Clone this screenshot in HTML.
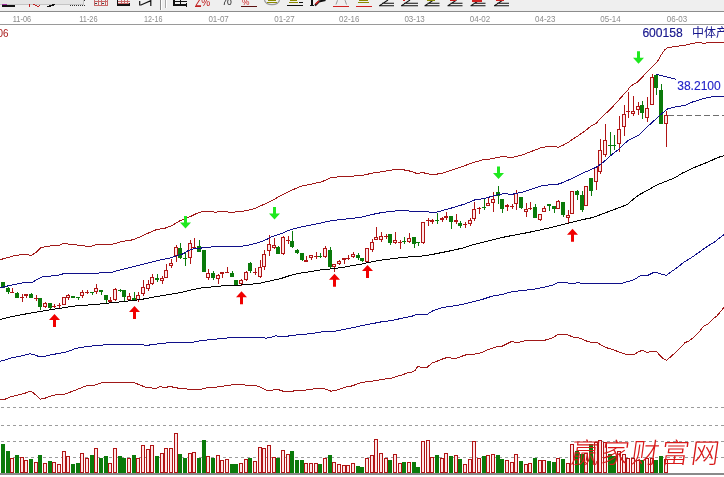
<!DOCTYPE html>
<html lang="zh"><head><meta charset="utf-8"><title>600158 中体产业 K线图</title>
<style>html,body{margin:0;padding:0;background:#fff}body{width:724px;height:477px;overflow:hidden}svg{display:block;filter:blur(0.4px)}text{font-family:"Liberation Sans","Noto Sans CJK SC",sans-serif}</style></head><body>
<svg width="724" height="477" viewBox="0 0 724 477">
<rect width="724" height="477" fill="#fff"/>
<g shape-rendering="crispEdges">
<rect x="0" y="0" width="724" height="11" fill="#efefef"/>
<rect x="0" y="0" width="83" height="4" fill="#e4e4e4"/><rect x="0" y="4" width="84" height="1" fill="#c4c4c4"/><rect x="83" y="0" width="1" height="4" fill="#c4c4c4"/>
<rect x="0" y="11" width="724" height="1" fill="#8c8c8c"/>
<rect x="0" y="24" width="724" height="1" fill="#9a9a9a"/>
</g>
<g shape-rendering="crispEdges">
<!-- icon1 -->
<rect x="2" y="5" width="13" height="2" fill="#111"/><rect x="2" y="4" width="5" height="1" fill="#a030a0"/>
<!-- icon2 red marks -->
<rect x="29" y="4" width="1" height="3" fill="#c02020"/><rect x="33" y="4" width="2" height="1" fill="#c02020"/><rect x="35" y="5" width="2" height="1" fill="#c02020"/><rect x="37" y="6" width="2" height="1" fill="#c02020"/><rect x="39" y="5" width="1" height="1" fill="#c02020"/>
<!-- icon3 -->
<rect x="47" y="6" width="4" height="1" fill="#111"/><rect x="49" y="5" width="5" height="1" fill="#111"/><rect x="52" y="4" width="3" height="1" fill="#111"/>
<!-- icon4 dotted -->
<g fill="#333"><rect x="70" y="5" width="1" height="1"/><rect x="72" y="5" width="1" height="1"/><rect x="74" y="5" width="1" height="1"/><rect x="76" y="5" width="1" height="1"/><rect x="78" y="5" width="1" height="1"/><rect x="80" y="5" width="1" height="1"/><rect x="82" y="5" width="1" height="1"/><rect x="84" y="5" width="1" height="1"/><rect x="84" y="0" width="1" height="1"/></g>
<!-- icon5 grid -->
<g fill="#c86868"><rect x="94" y="0" width="1" height="5"/><rect x="98" y="0" width="1" height="5"/><rect x="101" y="0" width="1" height="5"/><rect x="105" y="0" width="1" height="5"/><rect x="107" y="0" width="1" height="5"/><rect x="94" y="1" width="14" height="1"/><rect x="94" y="5" width="14" height="1"/></g>
<rect x="95" y="3" width="2" height="1" fill="#444"/><rect x="102" y="3" width="2" height="1" fill="#444"/>
<!-- icon6 grid + base -->
<g fill="#c86868"><rect x="121" y="0" width="1" height="4"/><rect x="124" y="0" width="1" height="4"/><rect x="127" y="0" width="1" height="4"/><rect x="118" y="1" width="12" height="1"/><rect x="118" y="3" width="12" height="1"/></g>
<rect x="117" y="0" width="1" height="6" fill="#111"/><rect x="117" y="4" width="13" height="2" fill="#111"/><rect x="129" y="3" width="1" height="3" fill="#111"/>
<!-- separator -->
<rect x="160" y="0" width="1" height="10" fill="#8a8a8a"/><rect x="161" y="0" width="1" height="10" fill="#fff"/>
<rect x="165" y="0" width="1" height="8" fill="#a8a8a8"/><rect x="166" y="0" width="1" height="8" fill="#fff"/>
<!-- icon8 E/table -->
<rect x="173" y="4" width="14" height="2" fill="#111"/><rect x="173" y="0" width="2" height="5" fill="#111"/><rect x="175" y="1" width="5" height="1" fill="#111"/><rect x="181" y="1" width="6" height="1" fill="#111"/><rect x="180" y="0" width="1" height="4" fill="#111"/><rect x="186" y="3" width="1" height="4" fill="#111"/>
<!-- % underline -->
<rect x="241" y="6" width="16" height="1" fill="#5a1010"/>
<!-- icon12 circle bottom & olive -->
<rect x="268" y="0" width="8" height="1" fill="#8a8a00"/><rect x="267" y="2" width="10" height="1" fill="#8a8a00"/>
<!-- icon13 olive + black underline -->
<rect x="290" y="0" width="7" height="1" fill="#8a8a00"/><rect x="289" y="2" width="9" height="1" fill="#8a8a00"/><rect x="287" y="5" width="16" height="1" fill="#111"/><rect x="299" y="2" width="4" height="1" fill="#111"/>
<!-- icon14 I + pen -->
<rect x="311" y="0" width="2" height="6" fill="#111"/><rect x="310" y="5" width="4" height="1" fill="#111"/>
<!-- icon15 red underline -->
<rect x="333" y="6" width="16" height="1" fill="#d02020"/>
<!-- icon16 olive + red underline -->
<rect x="359" y="0" width="9" height="1" fill="#8a8a00"/><rect x="358" y="2" width="11" height="1" fill="#8a8a00"/><rect x="356" y="6" width="16" height="1" fill="#d02020"/>
</g>
<!-- non-crisp strokes -->
<g fill="none" stroke="#111" stroke-width="1.2">
<polyline points="139.7,1 139.7,5 141,5 150.8,0.6 150.8,6"/>
<path d="M264.5,0 Q265.5,4.6 272,4.6 Q278.5,4.6 279.5,0" stroke="#999"/>
<path d="M336,4.5 Q337.5,0 339,-3 M344,-3 Q345,0 346.5,4.5" stroke="#999" stroke-width="1"/>
<polyline points="315,5.5 319,1.5 325.5,0" stroke="#111" stroke-width="2"/>
<polyline points="315.5,4.2 319,1" stroke="#d02020" stroke-width="1.6"/>
</g>
<g stroke="#111" stroke-width="1.1" fill="none">
<path d="M382,3.3 H394 M379,5.8 H394 M379.5,5.6 L388,0"/>
<path d="M404,3.3 H418 M401,5.8 H418 M401.5,5.6 L410,0"/>
<path d="M427.5,3.3 H439.5 M424.5,5.8 H439.5 M425,5.6 L433.5,0"/>
<path d="M450.5,3.3 H462.5 M447.5,5.8 H462.5 M448,5.6 L456.5,0"/>
<path d="M473.5,3.3 H485.5 M470.5,5.8 H485.5 M471,5.6 L479.5,0"/>
<path d="M497,3.3 H509 M494,5.8 H509 M494.5,5.6 L503,0"/>
</g>
<g shape-rendering="crispEdges"><rect x="403" y="0" width="2" height="1" fill="#d02020"/><rect x="427" y="0" width="8" height="1" fill="#8a8a00"/><rect x="450" y="0" width="6" height="1" fill="#d02020"/><rect x="472" y="0" width="10" height="2" fill="#d02020"/><rect x="496" y="0" width="8" height="1" fill="#d02020"/></g>
<text x="195.2" y="6.4" font-size="10" fill="#c02020">Z%</text>
<rect x="195" y="6" width="6" height="1" fill="#c02020"/>
<text x="222.3" y="4.8" font-size="8.6" fill="#111">70</text>
<text x="242" y="4.6" font-size="8.4" fill="#d02020">%</text>

<g font-size="9.2" fill="#8c8c8c" text-anchor="middle">
<text x="22.0" y="22" textLength="18.4" lengthAdjust="spacingAndGlyphs">11-06</text>
<text x="88.4" y="22" textLength="18.4" lengthAdjust="spacingAndGlyphs">11-26</text>
<text x="153.2" y="22" textLength="18.4" lengthAdjust="spacingAndGlyphs">12-16</text>
<text x="218.6" y="22" textLength="20.4" lengthAdjust="spacingAndGlyphs">01-07</text>
<text x="284.5" y="22" textLength="20.4" lengthAdjust="spacingAndGlyphs">01-27</text>
<text x="349.3" y="22" textLength="20.4" lengthAdjust="spacingAndGlyphs">02-16</text>
<text x="414.6" y="22" textLength="20.4" lengthAdjust="spacingAndGlyphs">03-13</text>
<text x="480.0" y="22" textLength="20.4" lengthAdjust="spacingAndGlyphs">04-02</text>
<text x="545.3" y="22" textLength="20.4" lengthAdjust="spacingAndGlyphs">04-23</text>
<text x="610.5" y="22" textLength="20.4" lengthAdjust="spacingAndGlyphs">05-14</text>
<text x="677.0" y="22" textLength="20.4" lengthAdjust="spacingAndGlyphs">06-03</text>
</g>
<text x="-2.6" y="37.3" font-size="11.5" fill="#a81818" textLength="11" lengthAdjust="spacingAndGlyphs">06</text>
<g stroke="#9c9c9c" stroke-width="1" stroke-dasharray="3 3" shape-rendering="crispEdges">
<line x1="1" y1="407.5" x2="724" y2="407.5"/>
<line x1="1" y1="425.5" x2="724" y2="425.5"/>
<line x1="1" y1="441.5" x2="724" y2="441.5"/>
<line x1="1" y1="457.5" x2="724" y2="457.5"/>
</g>
<g shape-rendering="crispEdges">
<rect x="3" y="282" width="1" height="6" fill="#0a7a0a"/>
<rect x="1" y="282" width="4" height="6" fill="#0a7a0a"/>
<rect x="8" y="287" width="1" height="7" fill="#0a7a0a"/>
<rect x="6" y="288" width="4" height="4" fill="#0a7a0a"/>
<rect x="12" y="288" width="1" height="5" fill="#b01414"/>
<rect x="10" y="292" width="4" height="1" fill="#b01414"/>
<rect x="17" y="292" width="1" height="6" fill="#0a7a0a"/>
<rect x="15" y="293" width="4" height="5" fill="#0a7a0a"/>
<rect x="22" y="294" width="1" height="8" fill="#b01414"/>
<rect x="20" y="297" width="4" height="1" fill="#b01414"/>
<rect x="26" y="294" width="1" height="4" fill="#b01414"/>
<rect x="24" y="294" width="4" height="2" fill="#b01414"/>
<rect x="31" y="293" width="1" height="5" fill="#0a7a0a"/>
<rect x="29" y="294" width="4" height="4" fill="#0a7a0a"/>
<rect x="36" y="295" width="1" height="6" fill="#b01414"/>
<rect x="34" y="298" width="4" height="1" fill="#b01414"/>
<rect x="40" y="298" width="1" height="12" fill="#0a7a0a"/>
<rect x="38" y="298" width="4" height="9" fill="#0a7a0a"/>
<rect x="45" y="302" width="1" height="1" fill="#b01414"/>
<rect x="45" y="307" width="1" height="1" fill="#b01414"/>
<rect x="43" y="303" width="4" height="4" fill="#b01414"/>
<rect x="44" y="304" width="2" height="2" fill="#ffe6e8"/>
<rect x="50" y="303" width="1" height="6" fill="#0a7a0a"/>
<rect x="48" y="303" width="4" height="5" fill="#0a7a0a"/>
<rect x="54" y="304" width="1" height="4" fill="#b01414"/>
<rect x="52" y="306" width="4" height="1" fill="#b01414"/>
<rect x="59" y="303" width="1" height="5" fill="#b01414"/>
<rect x="57" y="305" width="4" height="1" fill="#b01414"/>
<rect x="62" y="297" width="4" height="8" fill="#b01414"/>
<rect x="63" y="298" width="2" height="6" fill="#ffe6e8"/>
<rect x="68" y="294" width="1" height="1" fill="#b01414"/>
<rect x="68" y="298" width="1" height="2" fill="#b01414"/>
<rect x="66" y="295" width="4" height="3" fill="#b01414"/>
<rect x="67" y="296" width="2" height="1" fill="#ffe6e8"/>
<rect x="73" y="296" width="1" height="2" fill="#0a7a0a"/>
<rect x="71" y="296" width="4" height="2" fill="#0a7a0a"/>
<rect x="78" y="297" width="1" height="3" fill="#0a7a0a"/>
<rect x="76" y="297" width="4" height="1" fill="#0a7a0a"/>
<rect x="82" y="290" width="1" height="2" fill="#b01414"/>
<rect x="82" y="296" width="1" height="2" fill="#b01414"/>
<rect x="80" y="292" width="4" height="4" fill="#b01414"/>
<rect x="81" y="293" width="2" height="2" fill="#ffe6e8"/>
<rect x="87" y="290" width="1" height="4" fill="#b01414"/>
<rect x="85" y="292" width="4" height="1" fill="#b01414"/>
<rect x="92" y="292" width="1" height="3" fill="#0a7a0a"/>
<rect x="90" y="292" width="4" height="1" fill="#0a7a0a"/>
<rect x="96" y="284" width="1" height="4" fill="#b01414"/>
<rect x="96" y="292" width="1" height="2" fill="#b01414"/>
<rect x="94" y="288" width="4" height="4" fill="#b01414"/>
<rect x="95" y="289" width="2" height="2" fill="#ffe6e8"/>
<rect x="101" y="290" width="1" height="5" fill="#0a7a0a"/>
<rect x="99" y="290" width="4" height="2" fill="#0a7a0a"/>
<rect x="106" y="295" width="1" height="8" fill="#0a7a0a"/>
<rect x="104" y="295" width="4" height="5" fill="#0a7a0a"/>
<rect x="110" y="297" width="1" height="5" fill="#b01414"/>
<rect x="108" y="300" width="4" height="2" fill="#b01414"/>
<rect x="115" y="288" width="1" height="1" fill="#b01414"/>
<rect x="115" y="300" width="1" height="1" fill="#b01414"/>
<rect x="113" y="289" width="4" height="11" fill="#b01414"/>
<rect x="114" y="290" width="2" height="9" fill="#ffe6e8"/>
<rect x="120" y="289" width="1" height="3" fill="#0a7a0a"/>
<rect x="118" y="290" width="4" height="1" fill="#0a7a0a"/>
<rect x="124" y="290" width="1" height="11" fill="#0a7a0a"/>
<rect x="122" y="290" width="4" height="7" fill="#0a7a0a"/>
<rect x="129" y="293" width="1" height="3" fill="#b01414"/>
<rect x="129" y="300" width="1" height="1" fill="#b01414"/>
<rect x="127" y="296" width="4" height="4" fill="#b01414"/>
<rect x="128" y="297" width="2" height="2" fill="#ffe6e8"/>
<rect x="134" y="292" width="1" height="8" fill="#0a7a0a"/>
<rect x="132" y="298" width="4" height="2" fill="#0a7a0a"/>
<rect x="138" y="292" width="1" height="3" fill="#b01414"/>
<rect x="138" y="300" width="1" height="2" fill="#b01414"/>
<rect x="136" y="295" width="4" height="5" fill="#b01414"/>
<rect x="137" y="296" width="2" height="3" fill="#ffe6e8"/>
<rect x="143" y="280" width="1" height="7" fill="#b01414"/>
<rect x="143" y="294" width="1" height="2" fill="#b01414"/>
<rect x="141" y="287" width="4" height="7" fill="#b01414"/>
<rect x="142" y="288" width="2" height="5" fill="#ffe6e8"/>
<rect x="148" y="280" width="1" height="4" fill="#b01414"/>
<rect x="148" y="289" width="1" height="2" fill="#b01414"/>
<rect x="146" y="284" width="4" height="5" fill="#b01414"/>
<rect x="147" y="285" width="2" height="3" fill="#ffe6e8"/>
<rect x="152" y="274" width="1" height="3" fill="#b01414"/>
<rect x="152" y="284" width="1" height="1" fill="#b01414"/>
<rect x="150" y="277" width="4" height="7" fill="#b01414"/>
<rect x="151" y="278" width="2" height="5" fill="#ffe6e8"/>
<rect x="157" y="274" width="1" height="8" fill="#0a7a0a"/>
<rect x="155" y="278" width="4" height="2" fill="#0a7a0a"/>
<rect x="162" y="276" width="1" height="2" fill="#b01414"/>
<rect x="162" y="281" width="1" height="3" fill="#b01414"/>
<rect x="160" y="278" width="4" height="3" fill="#b01414"/>
<rect x="161" y="279" width="2" height="1" fill="#ffe6e8"/>
<rect x="166" y="264" width="1" height="6" fill="#b01414"/>
<rect x="164" y="270" width="4" height="8" fill="#b01414"/>
<rect x="165" y="271" width="2" height="6" fill="#ffe6e8"/>
<rect x="171" y="259" width="1" height="4" fill="#b01414"/>
<rect x="171" y="266" width="1" height="2" fill="#b01414"/>
<rect x="169" y="263" width="4" height="3" fill="#b01414"/>
<rect x="170" y="264" width="2" height="1" fill="#ffe6e8"/>
<rect x="176" y="245" width="1" height="2" fill="#b01414"/>
<rect x="176" y="256" width="1" height="6" fill="#b01414"/>
<rect x="174" y="247" width="4" height="9" fill="#b01414"/>
<rect x="175" y="248" width="2" height="7" fill="#ffe6e8"/>
<rect x="180" y="243" width="1" height="16" fill="#0a7a0a"/>
<rect x="178" y="248" width="4" height="10" fill="#0a7a0a"/>
<rect x="185" y="252" width="1" height="14" fill="#0a7a0a"/>
<rect x="183" y="258" width="4" height="1" fill="#0a7a0a"/>
<rect x="190" y="240" width="1" height="3" fill="#b01414"/>
<rect x="190" y="258" width="1" height="6" fill="#b01414"/>
<rect x="188" y="243" width="4" height="15" fill="#b01414"/>
<rect x="189" y="244" width="2" height="13" fill="#ffe6e8"/>
<rect x="194" y="238" width="1" height="11" fill="#b01414"/>
<rect x="192" y="247" width="4" height="1" fill="#b01414"/>
<rect x="199" y="240" width="1" height="12" fill="#0a7a0a"/>
<rect x="197" y="246" width="4" height="6" fill="#0a7a0a"/>
<rect x="204" y="250" width="1" height="22" fill="#0a7a0a"/>
<rect x="202" y="250" width="4" height="22" fill="#0a7a0a"/>
<rect x="208" y="269" width="1" height="4" fill="#b01414"/>
<rect x="208" y="278" width="1" height="2" fill="#b01414"/>
<rect x="206" y="273" width="4" height="5" fill="#b01414"/>
<rect x="207" y="274" width="2" height="3" fill="#ffe6e8"/>
<rect x="213" y="271" width="1" height="9" fill="#0a7a0a"/>
<rect x="211" y="273" width="4" height="5" fill="#0a7a0a"/>
<rect x="218" y="274" width="1" height="1" fill="#b01414"/>
<rect x="218" y="279" width="1" height="5" fill="#b01414"/>
<rect x="216" y="275" width="4" height="4" fill="#b01414"/>
<rect x="217" y="276" width="2" height="2" fill="#ffe6e8"/>
<rect x="222" y="272" width="1" height="6" fill="#b01414"/>
<rect x="220" y="272" width="4" height="2" fill="#b01414"/>
<rect x="227" y="267" width="1" height="6" fill="#b01414"/>
<rect x="225" y="272" width="4" height="1" fill="#b01414"/>
<rect x="232" y="271" width="1" height="6" fill="#0a7a0a"/>
<rect x="230" y="273" width="4" height="4" fill="#0a7a0a"/>
<rect x="236" y="280" width="1" height="5" fill="#0a7a0a"/>
<rect x="234" y="280" width="4" height="5" fill="#0a7a0a"/>
<rect x="241" y="279" width="1" height="1" fill="#b01414"/>
<rect x="241" y="284" width="1" height="2" fill="#b01414"/>
<rect x="239" y="280" width="4" height="4" fill="#b01414"/>
<rect x="240" y="281" width="2" height="2" fill="#ffe6e8"/>
<rect x="246" y="271" width="1" height="1" fill="#b01414"/>
<rect x="246" y="280" width="1" height="1" fill="#b01414"/>
<rect x="244" y="272" width="4" height="8" fill="#b01414"/>
<rect x="245" y="273" width="2" height="6" fill="#ffe6e8"/>
<rect x="250" y="262" width="1" height="11" fill="#0a7a0a"/>
<rect x="248" y="263" width="4" height="8" fill="#0a7a0a"/>
<rect x="255" y="268" width="1" height="7" fill="#b01414"/>
<rect x="253" y="272" width="4" height="1" fill="#b01414"/>
<rect x="260" y="260" width="1" height="7" fill="#b01414"/>
<rect x="260" y="277" width="1" height="1" fill="#b01414"/>
<rect x="258" y="267" width="4" height="10" fill="#b01414"/>
<rect x="259" y="268" width="2" height="8" fill="#ffe6e8"/>
<rect x="264" y="250" width="1" height="4" fill="#b01414"/>
<rect x="264" y="267" width="1" height="3" fill="#b01414"/>
<rect x="262" y="254" width="4" height="13" fill="#b01414"/>
<rect x="263" y="255" width="2" height="11" fill="#ffe6e8"/>
<rect x="269" y="235" width="1" height="9" fill="#b01414"/>
<rect x="269" y="251" width="1" height="5" fill="#b01414"/>
<rect x="267" y="244" width="4" height="7" fill="#b01414"/>
<rect x="268" y="245" width="2" height="5" fill="#ffe6e8"/>
<rect x="274" y="238" width="1" height="7" fill="#b01414"/>
<rect x="274" y="248" width="1" height="1" fill="#b01414"/>
<rect x="272" y="245" width="4" height="3" fill="#b01414"/>
<rect x="273" y="246" width="2" height="1" fill="#ffe6e8"/>
<rect x="278" y="246" width="1" height="8" fill="#0a7a0a"/>
<rect x="276" y="247" width="4" height="7" fill="#0a7a0a"/>
<rect x="283" y="236" width="1" height="1" fill="#b01414"/>
<rect x="283" y="254" width="1" height="1" fill="#b01414"/>
<rect x="281" y="237" width="4" height="17" fill="#b01414"/>
<rect x="282" y="238" width="2" height="15" fill="#ffe6e8"/>
<rect x="288" y="236" width="1" height="8" fill="#b01414"/>
<rect x="286" y="240" width="4" height="1" fill="#b01414"/>
<rect x="292" y="231" width="1" height="17" fill="#0a7a0a"/>
<rect x="290" y="241" width="4" height="6" fill="#0a7a0a"/>
<rect x="297" y="249" width="1" height="5" fill="#0a7a0a"/>
<rect x="295" y="250" width="4" height="3" fill="#0a7a0a"/>
<rect x="302" y="253" width="1" height="8" fill="#0a7a0a"/>
<rect x="300" y="253" width="4" height="7" fill="#0a7a0a"/>
<rect x="306" y="256" width="1" height="6" fill="#b01414"/>
<rect x="304" y="260" width="4" height="2" fill="#b01414"/>
<rect x="311" y="258" width="1" height="2" fill="#b01414"/>
<rect x="309" y="255" width="4" height="3" fill="#b01414"/>
<rect x="310" y="256" width="2" height="1" fill="#ffe6e8"/>
<rect x="316" y="252" width="1" height="7" fill="#b01414"/>
<rect x="314" y="256" width="4" height="1" fill="#b01414"/>
<rect x="320" y="253" width="1" height="5" fill="#0a7a0a"/>
<rect x="318" y="256" width="4" height="1" fill="#0a7a0a"/>
<rect x="325" y="246" width="1" height="2" fill="#b01414"/>
<rect x="325" y="257" width="1" height="1" fill="#b01414"/>
<rect x="323" y="248" width="4" height="9" fill="#b01414"/>
<rect x="324" y="249" width="2" height="7" fill="#ffe6e8"/>
<rect x="330" y="247" width="1" height="21" fill="#0a7a0a"/>
<rect x="328" y="250" width="4" height="17" fill="#0a7a0a"/>
<rect x="334" y="267" width="1" height="5" fill="#b01414"/>
<rect x="332" y="264" width="4" height="3" fill="#b01414"/>
<rect x="333" y="265" width="2" height="1" fill="#ffe6e8"/>
<rect x="339" y="260" width="1" height="1" fill="#b01414"/>
<rect x="339" y="264" width="1" height="1" fill="#b01414"/>
<rect x="337" y="261" width="4" height="3" fill="#b01414"/>
<rect x="338" y="262" width="2" height="1" fill="#ffe6e8"/>
<rect x="344" y="258" width="1" height="6" fill="#b01414"/>
<rect x="342" y="258" width="4" height="2" fill="#b01414"/>
<rect x="348" y="255" width="1" height="5" fill="#b01414"/>
<rect x="346" y="258" width="4" height="1" fill="#b01414"/>
<rect x="353" y="252" width="1" height="2" fill="#b01414"/>
<rect x="353" y="257" width="1" height="1" fill="#b01414"/>
<rect x="351" y="254" width="4" height="3" fill="#b01414"/>
<rect x="352" y="255" width="2" height="1" fill="#ffe6e8"/>
<rect x="358" y="253" width="1" height="7" fill="#0a7a0a"/>
<rect x="356" y="255" width="4" height="3" fill="#0a7a0a"/>
<rect x="362" y="258" width="1" height="4" fill="#0a7a0a"/>
<rect x="360" y="258" width="4" height="3" fill="#0a7a0a"/>
<rect x="365" y="248" width="4" height="14" fill="#b01414"/>
<rect x="366" y="249" width="2" height="12" fill="#ffe6e8"/>
<rect x="372" y="239" width="1" height="3" fill="#b01414"/>
<rect x="372" y="250" width="1" height="2" fill="#b01414"/>
<rect x="370" y="242" width="4" height="8" fill="#b01414"/>
<rect x="371" y="243" width="2" height="6" fill="#ffe6e8"/>
<rect x="376" y="227" width="1" height="10" fill="#b01414"/>
<rect x="374" y="237" width="4" height="3" fill="#b01414"/>
<rect x="375" y="238" width="2" height="1" fill="#ffe6e8"/>
<rect x="381" y="232" width="1" height="4" fill="#b01414"/>
<rect x="381" y="240" width="1" height="2" fill="#b01414"/>
<rect x="379" y="236" width="4" height="4" fill="#b01414"/>
<rect x="380" y="237" width="2" height="2" fill="#ffe6e8"/>
<rect x="386" y="234" width="1" height="5" fill="#b01414"/>
<rect x="384" y="236" width="4" height="1" fill="#b01414"/>
<rect x="390" y="234" width="1" height="11" fill="#0a7a0a"/>
<rect x="388" y="234" width="4" height="9" fill="#0a7a0a"/>
<rect x="395" y="232" width="1" height="8" fill="#b01414"/>
<rect x="395" y="243" width="1" height="1" fill="#b01414"/>
<rect x="393" y="240" width="4" height="3" fill="#b01414"/>
<rect x="394" y="241" width="2" height="1" fill="#ffe6e8"/>
<rect x="400" y="240" width="1" height="9" fill="#b01414"/>
<rect x="398" y="242" width="4" height="1" fill="#b01414"/>
<rect x="404" y="237" width="1" height="7" fill="#0a7a0a"/>
<rect x="402" y="241" width="4" height="1" fill="#0a7a0a"/>
<rect x="409" y="233" width="1" height="5" fill="#b01414"/>
<rect x="409" y="242" width="1" height="1" fill="#b01414"/>
<rect x="407" y="238" width="4" height="4" fill="#b01414"/>
<rect x="408" y="239" width="2" height="2" fill="#ffe6e8"/>
<rect x="414" y="237" width="1" height="11" fill="#0a7a0a"/>
<rect x="412" y="237" width="4" height="7" fill="#0a7a0a"/>
<rect x="418" y="242" width="1" height="4" fill="#0a7a0a"/>
<rect x="416" y="242" width="4" height="1" fill="#0a7a0a"/>
<rect x="423" y="243" width="1" height="1" fill="#b01414"/>
<rect x="421" y="222" width="4" height="21" fill="#b01414"/>
<rect x="422" y="223" width="2" height="19" fill="#ffe6e8"/>
<rect x="428" y="218" width="1" height="8" fill="#b01414"/>
<rect x="426" y="220" width="4" height="1" fill="#b01414"/>
<rect x="432" y="219" width="1" height="5" fill="#b01414"/>
<rect x="430" y="220" width="4" height="2" fill="#b01414"/>
<rect x="437" y="213" width="1" height="11" fill="#0a7a0a"/>
<rect x="435" y="220" width="4" height="1" fill="#0a7a0a"/>
<rect x="442" y="217" width="1" height="5" fill="#b01414"/>
<rect x="440" y="218" width="4" height="2" fill="#b01414"/>
<rect x="446" y="212" width="1" height="8" fill="#b01414"/>
<rect x="444" y="216" width="4" height="2" fill="#b01414"/>
<rect x="451" y="216" width="1" height="13" fill="#0a7a0a"/>
<rect x="449" y="216" width="4" height="6" fill="#0a7a0a"/>
<rect x="456" y="214" width="1" height="10" fill="#b01414"/>
<rect x="454" y="220" width="4" height="2" fill="#b01414"/>
<rect x="460" y="221" width="1" height="7" fill="#0a7a0a"/>
<rect x="458" y="223" width="4" height="3" fill="#0a7a0a"/>
<rect x="465" y="222" width="1" height="6" fill="#b01414"/>
<rect x="463" y="224" width="4" height="1" fill="#b01414"/>
<rect x="470" y="218" width="1" height="2" fill="#b01414"/>
<rect x="470" y="224" width="1" height="2" fill="#b01414"/>
<rect x="468" y="220" width="4" height="4" fill="#b01414"/>
<rect x="469" y="221" width="2" height="2" fill="#ffe6e8"/>
<rect x="474" y="202" width="1" height="7" fill="#b01414"/>
<rect x="474" y="219" width="1" height="2" fill="#b01414"/>
<rect x="472" y="209" width="4" height="10" fill="#b01414"/>
<rect x="473" y="210" width="2" height="8" fill="#ffe6e8"/>
<rect x="479" y="207" width="1" height="7" fill="#b01414"/>
<rect x="477" y="208" width="4" height="1" fill="#b01414"/>
<rect x="484" y="198" width="1" height="12" fill="#0a7a0a"/>
<rect x="482" y="207" width="4" height="1" fill="#0a7a0a"/>
<rect x="488" y="197" width="1" height="6" fill="#b01414"/>
<rect x="486" y="203" width="4" height="3" fill="#b01414"/>
<rect x="487" y="204" width="2" height="1" fill="#ffe6e8"/>
<rect x="493" y="192" width="1" height="7" fill="#b01414"/>
<rect x="493" y="203" width="1" height="9" fill="#b01414"/>
<rect x="491" y="199" width="4" height="4" fill="#b01414"/>
<rect x="492" y="200" width="2" height="2" fill="#ffe6e8"/>
<rect x="498" y="186" width="1" height="18" fill="#0a7a0a"/>
<rect x="496" y="192" width="4" height="4" fill="#0a7a0a"/>
<rect x="502" y="199" width="1" height="14" fill="#0a7a0a"/>
<rect x="500" y="199" width="4" height="10" fill="#0a7a0a"/>
<rect x="507" y="204" width="1" height="7" fill="#b01414"/>
<rect x="505" y="205" width="4" height="2" fill="#b01414"/>
<rect x="512" y="204" width="1" height="5" fill="#b01414"/>
<rect x="510" y="206" width="4" height="1" fill="#b01414"/>
<rect x="516" y="190" width="1" height="3" fill="#b01414"/>
<rect x="516" y="204" width="1" height="6" fill="#b01414"/>
<rect x="514" y="193" width="4" height="11" fill="#b01414"/>
<rect x="515" y="194" width="2" height="9" fill="#ffe6e8"/>
<rect x="521" y="197" width="1" height="12" fill="#0a7a0a"/>
<rect x="519" y="197" width="4" height="11" fill="#0a7a0a"/>
<rect x="526" y="203" width="1" height="6" fill="#b01414"/>
<rect x="526" y="212" width="1" height="5" fill="#b01414"/>
<rect x="524" y="209" width="4" height="3" fill="#b01414"/>
<rect x="525" y="210" width="2" height="1" fill="#ffe6e8"/>
<rect x="530" y="202" width="1" height="8" fill="#b01414"/>
<rect x="528" y="208" width="4" height="1" fill="#b01414"/>
<rect x="535" y="204" width="1" height="14" fill="#0a7a0a"/>
<rect x="533" y="207" width="4" height="11" fill="#0a7a0a"/>
<rect x="540" y="220" width="1" height="1" fill="#b01414"/>
<rect x="538" y="214" width="4" height="6" fill="#b01414"/>
<rect x="539" y="215" width="2" height="4" fill="#ffe6e8"/>
<rect x="544" y="206" width="1" height="2" fill="#b01414"/>
<rect x="542" y="208" width="4" height="4" fill="#b01414"/>
<rect x="543" y="209" width="2" height="2" fill="#ffe6e8"/>
<rect x="549" y="204" width="1" height="7" fill="#0a7a0a"/>
<rect x="547" y="204" width="4" height="2" fill="#0a7a0a"/>
<rect x="554" y="206" width="1" height="7" fill="#0a7a0a"/>
<rect x="552" y="206" width="4" height="3" fill="#0a7a0a"/>
<rect x="558" y="200" width="1" height="1" fill="#b01414"/>
<rect x="556" y="201" width="4" height="8" fill="#b01414"/>
<rect x="557" y="202" width="2" height="6" fill="#ffe6e8"/>
<rect x="563" y="202" width="1" height="15" fill="#0a7a0a"/>
<rect x="561" y="202" width="4" height="13" fill="#0a7a0a"/>
<rect x="568" y="210" width="1" height="5" fill="#b01414"/>
<rect x="568" y="218" width="1" height="6" fill="#b01414"/>
<rect x="566" y="215" width="4" height="3" fill="#b01414"/>
<rect x="567" y="216" width="2" height="1" fill="#ffe6e8"/>
<rect x="570" y="191" width="4" height="23" fill="#b01414"/>
<rect x="571" y="192" width="2" height="21" fill="#ffe6e8"/>
<rect x="577" y="190" width="1" height="10" fill="#0a7a0a"/>
<rect x="575" y="191" width="4" height="4" fill="#0a7a0a"/>
<rect x="582" y="191" width="1" height="21" fill="#0a7a0a"/>
<rect x="580" y="195" width="4" height="15" fill="#0a7a0a"/>
<rect x="584" y="186" width="4" height="20" fill="#b01414"/>
<rect x="585" y="187" width="2" height="18" fill="#ffe6e8"/>
<rect x="591" y="178" width="1" height="18" fill="#0a7a0a"/>
<rect x="589" y="178" width="4" height="13" fill="#0a7a0a"/>
<rect x="596" y="182" width="1" height="8" fill="#b01414"/>
<rect x="594" y="167" width="4" height="15" fill="#b01414"/>
<rect x="595" y="168" width="2" height="13" fill="#ffe6e8"/>
<rect x="600" y="139" width="1" height="11" fill="#b01414"/>
<rect x="600" y="172" width="1" height="2" fill="#b01414"/>
<rect x="598" y="150" width="4" height="22" fill="#b01414"/>
<rect x="599" y="151" width="2" height="20" fill="#ffe6e8"/>
<rect x="605" y="124" width="1" height="16" fill="#b01414"/>
<rect x="605" y="155" width="1" height="2" fill="#b01414"/>
<rect x="603" y="140" width="4" height="15" fill="#b01414"/>
<rect x="604" y="141" width="2" height="13" fill="#ffe6e8"/>
<rect x="610" y="132" width="1" height="24" fill="#0a7a0a"/>
<rect x="608" y="145" width="4" height="1" fill="#0a7a0a"/>
<rect x="614" y="135" width="1" height="15" fill="#0a7a0a"/>
<rect x="612" y="145" width="4" height="1" fill="#0a7a0a"/>
<rect x="619" y="116" width="1" height="13" fill="#b01414"/>
<rect x="619" y="144" width="1" height="8" fill="#b01414"/>
<rect x="617" y="129" width="4" height="15" fill="#b01414"/>
<rect x="618" y="130" width="2" height="13" fill="#ffe6e8"/>
<rect x="624" y="105" width="1" height="9" fill="#b01414"/>
<rect x="624" y="127" width="1" height="9" fill="#b01414"/>
<rect x="622" y="114" width="4" height="13" fill="#b01414"/>
<rect x="623" y="115" width="2" height="11" fill="#ffe6e8"/>
<rect x="628" y="92" width="1" height="26" fill="#b01414"/>
<rect x="626" y="111" width="4" height="1" fill="#b01414"/>
<rect x="633" y="96" width="1" height="15" fill="#b01414"/>
<rect x="633" y="114" width="1" height="2" fill="#b01414"/>
<rect x="631" y="111" width="4" height="3" fill="#b01414"/>
<rect x="632" y="112" width="2" height="1" fill="#ffe6e8"/>
<rect x="638" y="102" width="1" height="4" fill="#b01414"/>
<rect x="638" y="110" width="1" height="5" fill="#b01414"/>
<rect x="636" y="106" width="4" height="4" fill="#b01414"/>
<rect x="637" y="107" width="2" height="2" fill="#ffe6e8"/>
<rect x="642" y="101" width="1" height="18" fill="#0a7a0a"/>
<rect x="640" y="105" width="4" height="8" fill="#0a7a0a"/>
<rect x="647" y="97" width="1" height="11" fill="#b01414"/>
<rect x="647" y="118" width="1" height="4" fill="#b01414"/>
<rect x="645" y="108" width="4" height="10" fill="#b01414"/>
<rect x="646" y="109" width="2" height="8" fill="#ffe6e8"/>
<rect x="652" y="74" width="1" height="3" fill="#b01414"/>
<rect x="650" y="77" width="4" height="28" fill="#b01414"/>
<rect x="651" y="78" width="2" height="26" fill="#ffe6e8"/>
<rect x="656" y="75" width="1" height="20" fill="#0a7a0a"/>
<rect x="654" y="75" width="4" height="13" fill="#0a7a0a"/>
<rect x="661" y="84" width="1" height="40" fill="#0a7a0a"/>
<rect x="659" y="90" width="4" height="34" fill="#0a7a0a"/>
<rect x="666" y="111" width="1" height="4" fill="#b01414"/>
<rect x="666" y="124" width="1" height="23" fill="#b01414"/>
<rect x="664" y="115" width="4" height="9" fill="#b01414"/>
<rect x="665" y="116" width="2" height="7" fill="#ffe6e8"/>
</g>
<polyline points="0,259.7 6.2,258 14.9,255.5 24.9,254.3 31.1,255.5 36.1,252.4 41,247.5 49.8,246 59.7,245 64.7,243.1 69.7,244.4 79.6,245.2 90,246.7 95,244.9 112.4,244.2 122.3,241.4 132.3,239.9 139.8,237.1 148.5,233 157.2,229.3 163.4,228.7 170.8,226.2 180,220.8 191,216.2 196,213.7 201,212 206,211.2 216,212.2 221,211.5 231,212.2 241,211.7 251,209.5 256,208 261,205.7 271,201.2 281,195.5 291,190.5 301,186.2 311,184.2 321,182 326,180 331,177.5 341,176.7 351,176.2 362,175.5 372,173.2 382,171.7 392,170 397,169 402,169.5 412,171.5 417,173.7 422,172.5 427,173.5 432,175 442,173.2 452,170 462,166.7 472,163 482,160 492,158.7 502,156.5 512,157.5 522,155 532,151.2 541.1,147.7 551,146 558.5,147.2 563.5,145 568.5,142.2 572.4,139.2 578.7,135.4 584.9,131 591.1,126.1 596.1,123.6 599.8,119.2 603.5,115.5 609.8,109.9 616,103.1 622.2,96.2 627.8,90 629.8,87 634.7,83.5 637.2,82.3 642.2,77.3 648.4,70.5 654.6,64.3 657.7,61.1 660.8,55.5 664.6,50 667.1,48.1 670,47.2 672.5,46.9 684.6,45.3 696.8,42.5 704,43.2 715,42.2 724,43" fill="none" stroke="#a01818" stroke-width="1.0" stroke-linejoin="round" shape-rendering="crispEdges"/>
<polyline points="0,400 5,399.2 10,397 15,395.7 20,394.5 25,393.2 30,391.2 33,392.5 37,396.2 40,399.2 45,398.2 50,396.2 55,395 60,394.6 65,394 70,392.2 75,390.3 80,388.3 85,386.2 90,385 95,385 100,383.2 105,382.5 110,382 115,382.5 120,382 125,382.5 130,382.5 135,383 140,385 145,387 150,387.5 155,388.7 160,386.7 165,387.5 170,386.5 175,387.5 181,388.7 191,389.2 201,389.2 206,388 211,387.5 221,386.7 226,385.5 231,385 236,384.5 241,384.5 246,385.2 251,385.5 256,385.5 261,387.5 266,390 271,390.5 276,389.2 278,389.5 283,391.2 291,391.5 296,390.5 301,390 306,390 311,389.2 316,388.7 321,388.2 326,389.2 331,391.2 336,390.5 341,388.7 346,387 351,386.2 356,384.5 362,382.3 372,381.2 382,379.5 392,378 397,376.2 402,375 407,373 412,372 415,370.5 418,366.2 422,368 427,367.5 432,363 437,361.2 442,359.2 447,357.5 452,358.2 457,358 462,356.2 467,354.5 472,354.5 477,353.7 482,352.5 487,350 492,348.2 497,346.7 502,346.2 507,343.7 512,341.2 517,343 522,341.2 532,340 537,340.7 543,340.5 548,339.5 553,337.5 558,334.5 563,334 568,335 573,337 578,337.5 583,339.5 588,341.7 593,342.5 598,343 603,346.2 608,348.2 613,349.5 618,351.7 623,353.2 628,355 634,354.7 639,351.5 642.7,350.3 647.1,352.5 650.8,351.3 656.4,351.3 658.9,354.4 662.6,358.1 666.6,360.2 671.3,356.2 677.5,350.6 682.5,345.7 685,342.6 688.7,341.1 692.5,338.2 698.7,332.6 701.8,328.3 704.9,325.4 708,324.1 713.6,318.3 716.7,316.2 719.8,312.5 724,307.5" fill="none" stroke="#a01818" stroke-width="1.0" stroke-linejoin="round" shape-rendering="crispEdges"/>
<polyline points="0,287.9 12.4,284.8 22.4,282.9 32.3,282.3 37.3,279.2 42.3,276.7 49.8,276.1 60.9,274.8 64.1,273.3 80,273.3 90,273.4 111.1,272.5 121.1,269.7 133.5,266.6 146,263.5 158.4,260.4 170.8,257.9 177.1,255.6 181,254.6 183.7,253.5 187.5,251 192.4,249.1 202.4,247.9 217.3,246.3 242.2,246.2 249.7,244.8 259.6,242.3 267.1,239.2 271,237 281,233.7 291,229.5 301,227 311,225 321,223 331,220.7 341,219.5 351,218.5 362,217 372,214.5 382,212.5 392,211.2 402,210.5 412,211.2 420,211.6 425,211.1 432.5,213 440,211.2 447.4,209.2 457,206.4 466,203.6 474.8,199.9 484.7,198.4 492.2,196.2 505.8,193.1 510,194.7 516,193.5 522.4,192.2 534.9,187.9 543,185.5 553,184.5 558,184.2 563,182.5 573,178 583,173 593,168.7 598,166.2 603,162.5 608,158 613,153.7 618,150 623,145 628.4,140.4 634,137.5 639,135 646.4,127.5 652.7,121.9 658.9,116.1 663.9,112 667.6,108.9 675,107 685,105.4 692.5,102 702.4,98.9 713.6,96.4 724,96.1" fill="none" stroke="#10108a" stroke-width="1.0" stroke-linejoin="round" shape-rendering="crispEdges"/>
<polyline points="0,361.2 5,360 10,358.2 20,356.2 25,355 30,353.7 35,355 40,357 45,356.2 50,355 60,353.2 65,352.5 70,350.7 75,348.7 80,347.5 90,346.2 100,345.2 110,344.5 120,344.2 130,344.2 140,344.2 147,345.5 152,344.5 160,343.7 170,342.5 181,342.5 191,342.5 201,340.7 211,339.5 221,338.7 231,337.5 241,337 251,337 261,337 266,338.2 271,337.5 276,335.7 281,337 286,336.5 291,335.5 301,334.5 311,333.7 321,332 326,331.2 331,332 341,330 351,328 356,327 362,325.5 372,323.7 382,321.7 392,320.5 402,318.2 412,316.2 417,314.2 422,315 427,314.5 432,311.2 442,307.5 452,306.2 462,304.5 472,302 482,299.5 492,296.2 502,294.5 512,291.7 522,290.5 532,289.5 543,287.5 553,285 558,282.5 568,283 573,283.7 578,282.5 583,283.7 593,283 603,283.7 613,283 623,283 634,279.8 640.2,275.8 647.7,275.4 652.7,272.9 656.4,272.3 661.4,274.2 666.3,275.4 671.3,271.7 677.5,267.3 683.8,262.3 690,258.6 696.2,254.3 702.4,249.9 708.6,245.5 714.8,241.8 721.1,236.8 724,234.7" fill="none" stroke="#10108a" stroke-width="1.0" stroke-linejoin="round" shape-rendering="crispEdges"/>
<polyline points="0,319.5 12,316.6 20,315 30,313.2 40,311.5 50,309.8 63,307.8 68,307 75.5,306 87,305.1 99,304.1 109,303 117,302.2 122.3,301.6 134.7,300.4 141,299.5 147.2,298.3 159.6,296 175,293.6 181,292.5 191,290 201,288 211,287 221,286 231,285.5 241,285 251,284.2 261,283 271,280.7 281,278.5 291,275.2 301,273 311,271.5 321,269.8 331,268.9 341,267.7 351,265.8 362,264 372,261.7 382,260 392,258.7 402,257.5 412,256.7 422,256 432,254.5 442,252.5 452,250.5 462,248.2 472,245 482,242.5 492,240 502,237.5 512,235.5 522,233.7 532,231.7 543,229.3 553,227 563,224.5 573,222 583,219.5 593,217.5 603,213.7 613,210 623,206.2 628,204 634,198.5 640.2,194.1 646.4,191 655.1,186 658.9,184.2 671.3,179.2 677.5,176.1 682.5,173 696.2,166.7 708.6,161.8 714.8,158.9 721.1,156.4 724,155.9" fill="none" stroke="#000" stroke-width="1.0" stroke-linejoin="round" shape-rendering="crispEdges"/>
<line x1="668" y1="115.5" x2="724" y2="115.5" stroke="#6e6e6e" stroke-width="1" stroke-dasharray="6 3" shape-rendering="crispEdges"/>
<line x1="656" y1="74.3" x2="676" y2="79.3" stroke="#10108a" stroke-width="1" shape-rendering="crispEdges"/>
<polygon points="54.5,314 60.0,320 56.0,320 56.0,327 53.0,327 53.0,320 49.0,320" fill="#f00000"/>
<polygon points="134.5,306 140.0,312 136.0,312 136.0,319 133.0,319 133.0,312 129.0,312" fill="#f00000"/>
<polygon points="241.5,291.2 247.0,297.2 243.0,297.2 243.0,304.2 240.0,304.2 240.0,297.2 236.0,297.2" fill="#f00000"/>
<polygon points="334.5,273.7 340.0,279.7 336.0,279.7 336.0,286.7 333.0,286.7 333.0,279.7 329.0,279.7" fill="#f00000"/>
<polygon points="367.5,265 373.0,271 369.0,271 369.0,278 366.0,278 366.0,271 362.0,271" fill="#f00000"/>
<polygon points="572.5,228.7 578.0,234.7 574.0,234.7 574.0,241.7 571.0,241.7 571.0,234.7 567.0,234.7" fill="#f00000"/>
<polygon points="185.5,228.6 191.0,222.6 187.0,222.6 187.0,216.0 184.0,216.0 184.0,222.6 180.0,222.6" fill="#1fe81f"/>
<polygon points="274.5,219.5 280.0,213.5 276.0,213.5 276.0,206.9 273.0,206.9 273.0,213.5 269.0,213.5" fill="#1fe81f"/>
<polygon points="498.5,179 504.0,173 500.0,173 500.0,166.4 497.0,166.4 497.0,173 493.0,173" fill="#1fe81f"/>
<polygon points="638.5,63.8 644.0,57.8 640.0,57.8 640.0,51.199999999999996 637.0,51.199999999999996 637.0,57.8 633.0,57.8" fill="#1fe81f"/>
<text x="642.4" y="36.7" font-size="12" fill="#14148c" stroke="#14148c" stroke-width="0.15" textLength="40.4" lengthAdjust="spacingAndGlyphs">600158</text>
<text x="692" y="37.2" font-size="12" fill="#14148c" style="font-family:'Liberation Sans','Noto Sans CJK SC',sans-serif" textLength="36" lengthAdjust="spacing">中体产</text>
<text x="677.2" y="89.6" font-size="12" fill="#2020c8" stroke="#2020c8" stroke-width="0.1" textLength="43.6" lengthAdjust="spacingAndGlyphs">38.2100</text>
<g shape-rendering="crispEdges">
<rect x="1" y="444" width="4" height="29" fill="#0a7a0a"/>
<rect x="6" y="451" width="4" height="22" fill="#0a7a0a"/>
<rect x="10" y="458" width="4" height="15" fill="#b01414"/><rect x="11" y="459" width="2" height="13" fill="#ffe6e8"/>
<rect x="15" y="455" width="4" height="18" fill="#0a7a0a"/>
<rect x="20" y="457" width="4" height="16" fill="#b01414"/><rect x="21" y="458" width="2" height="14" fill="#ffe6e8"/>
<rect x="24" y="460" width="4" height="13" fill="#b01414"/><rect x="25" y="461" width="2" height="11" fill="#ffe6e8"/>
<rect x="29" y="459" width="4" height="14" fill="#0a7a0a"/>
<rect x="34" y="462" width="4" height="11" fill="#b01414"/><rect x="35" y="463" width="2" height="9" fill="#ffe6e8"/>
<rect x="38" y="455" width="4" height="18" fill="#0a7a0a"/>
<rect x="43" y="463" width="4" height="10" fill="#b01414"/><rect x="44" y="464" width="2" height="8" fill="#ffe6e8"/>
<rect x="48" y="461" width="4" height="12" fill="#0a7a0a"/>
<rect x="52" y="462" width="4" height="11" fill="#b01414"/><rect x="53" y="463" width="2" height="9" fill="#ffe6e8"/>
<rect x="57" y="464" width="4" height="9" fill="#b01414"/><rect x="58" y="465" width="2" height="7" fill="#ffe6e8"/>
<rect x="62" y="451" width="4" height="22" fill="#b01414"/><rect x="63" y="452" width="2" height="20" fill="#ffe6e8"/>
<rect x="66" y="456" width="4" height="17" fill="#b01414"/><rect x="67" y="457" width="2" height="15" fill="#ffe6e8"/>
<rect x="71" y="464" width="4" height="9" fill="#0a7a0a"/>
<rect x="76" y="463" width="4" height="10" fill="#0a7a0a"/>
<rect x="80" y="453" width="4" height="20" fill="#b01414"/><rect x="81" y="454" width="2" height="18" fill="#ffe6e8"/>
<rect x="85" y="458" width="4" height="15" fill="#b01414"/><rect x="86" y="459" width="2" height="13" fill="#ffe6e8"/>
<rect x="90" y="455" width="4" height="18" fill="#0a7a0a"/>
<rect x="94" y="448" width="4" height="25" fill="#b01414"/><rect x="95" y="449" width="2" height="23" fill="#ffe6e8"/>
<rect x="99" y="458" width="4" height="15" fill="#0a7a0a"/>
<rect x="104" y="456" width="4" height="17" fill="#0a7a0a"/>
<rect x="108" y="463" width="4" height="10" fill="#b01414"/><rect x="109" y="464" width="2" height="8" fill="#ffe6e8"/>
<rect x="113" y="448" width="4" height="25" fill="#b01414"/><rect x="114" y="449" width="2" height="23" fill="#ffe6e8"/>
<rect x="118" y="456" width="4" height="17" fill="#0a7a0a"/>
<rect x="122" y="458" width="4" height="15" fill="#0a7a0a"/>
<rect x="127" y="458" width="4" height="15" fill="#b01414"/><rect x="128" y="459" width="2" height="13" fill="#ffe6e8"/>
<rect x="132" y="455" width="4" height="18" fill="#0a7a0a"/>
<rect x="136" y="458" width="4" height="15" fill="#b01414"/><rect x="137" y="459" width="2" height="13" fill="#ffe6e8"/>
<rect x="141" y="445" width="4" height="28" fill="#b01414"/><rect x="142" y="446" width="2" height="26" fill="#ffe6e8"/>
<rect x="146" y="449" width="4" height="24" fill="#b01414"/><rect x="147" y="450" width="2" height="22" fill="#ffe6e8"/>
<rect x="150" y="445" width="4" height="28" fill="#b01414"/><rect x="151" y="446" width="2" height="26" fill="#ffe6e8"/>
<rect x="155" y="456" width="4" height="17" fill="#0a7a0a"/>
<rect x="160" y="453" width="4" height="20" fill="#b01414"/><rect x="161" y="454" width="2" height="18" fill="#ffe6e8"/>
<rect x="164" y="448" width="4" height="25" fill="#b01414"/><rect x="165" y="449" width="2" height="23" fill="#ffe6e8"/>
<rect x="169" y="448" width="4" height="25" fill="#b01414"/><rect x="170" y="449" width="2" height="23" fill="#ffe6e8"/>
<rect x="174" y="433" width="4" height="40" fill="#b01414"/><rect x="175" y="434" width="2" height="38" fill="#ffe6e8"/>
<rect x="178" y="454" width="4" height="19" fill="#0a7a0a"/>
<rect x="183" y="458" width="4" height="15" fill="#0a7a0a"/>
<rect x="188" y="453" width="4" height="20" fill="#b01414"/><rect x="189" y="454" width="2" height="18" fill="#ffe6e8"/>
<rect x="192" y="452" width="4" height="21" fill="#b01414"/><rect x="193" y="453" width="2" height="19" fill="#ffe6e8"/>
<rect x="197" y="458" width="4" height="15" fill="#0a7a0a"/>
<rect x="202" y="440" width="4" height="33" fill="#0a7a0a"/>
<rect x="206" y="456" width="4" height="17" fill="#b01414"/><rect x="207" y="457" width="2" height="15" fill="#ffe6e8"/>
<rect x="211" y="458" width="4" height="15" fill="#0a7a0a"/>
<rect x="216" y="455" width="4" height="18" fill="#b01414"/><rect x="217" y="456" width="2" height="16" fill="#ffe6e8"/>
<rect x="220" y="460" width="4" height="13" fill="#b01414"/><rect x="221" y="461" width="2" height="11" fill="#ffe6e8"/>
<rect x="225" y="459" width="4" height="14" fill="#b01414"/><rect x="226" y="460" width="2" height="12" fill="#ffe6e8"/>
<rect x="230" y="464" width="4" height="9" fill="#0a7a0a"/>
<rect x="234" y="464" width="4" height="9" fill="#0a7a0a"/>
<rect x="239" y="463" width="4" height="10" fill="#b01414"/><rect x="240" y="464" width="2" height="8" fill="#ffe6e8"/>
<rect x="244" y="459" width="4" height="14" fill="#b01414"/><rect x="245" y="460" width="2" height="12" fill="#ffe6e8"/>
<rect x="248" y="458" width="4" height="15" fill="#0a7a0a"/>
<rect x="253" y="461" width="4" height="12" fill="#b01414"/><rect x="254" y="462" width="2" height="10" fill="#ffe6e8"/>
<rect x="258" y="447" width="4" height="26" fill="#b01414"/><rect x="259" y="448" width="2" height="24" fill="#ffe6e8"/>
<rect x="262" y="448" width="4" height="25" fill="#b01414"/><rect x="263" y="449" width="2" height="23" fill="#ffe6e8"/>
<rect x="267" y="445" width="4" height="28" fill="#b01414"/><rect x="268" y="446" width="2" height="26" fill="#ffe6e8"/>
<rect x="272" y="457" width="4" height="16" fill="#b01414"/><rect x="273" y="458" width="2" height="14" fill="#ffe6e8"/>
<rect x="276" y="458" width="4" height="15" fill="#0a7a0a"/>
<rect x="281" y="450" width="4" height="23" fill="#b01414"/><rect x="282" y="451" width="2" height="21" fill="#ffe6e8"/>
<rect x="286" y="454" width="4" height="19" fill="#b01414"/><rect x="287" y="455" width="2" height="17" fill="#ffe6e8"/>
<rect x="290" y="451" width="4" height="22" fill="#0a7a0a"/>
<rect x="295" y="460" width="4" height="13" fill="#0a7a0a"/>
<rect x="300" y="460" width="4" height="13" fill="#0a7a0a"/>
<rect x="304" y="463" width="4" height="10" fill="#b01414"/><rect x="305" y="464" width="2" height="8" fill="#ffe6e8"/>
<rect x="309" y="463" width="4" height="10" fill="#b01414"/><rect x="310" y="464" width="2" height="8" fill="#ffe6e8"/>
<rect x="314" y="463" width="4" height="10" fill="#b01414"/><rect x="315" y="464" width="2" height="8" fill="#ffe6e8"/>
<rect x="318" y="464" width="4" height="9" fill="#0a7a0a"/>
<rect x="323" y="458" width="4" height="15" fill="#b01414"/><rect x="324" y="459" width="2" height="13" fill="#ffe6e8"/>
<rect x="328" y="455" width="4" height="18" fill="#0a7a0a"/>
<rect x="332" y="462" width="4" height="11" fill="#b01414"/><rect x="333" y="463" width="2" height="9" fill="#ffe6e8"/>
<rect x="337" y="464" width="4" height="9" fill="#b01414"/><rect x="338" y="465" width="2" height="7" fill="#ffe6e8"/>
<rect x="342" y="465" width="4" height="8" fill="#b01414"/><rect x="343" y="466" width="2" height="6" fill="#ffe6e8"/>
<rect x="346" y="465" width="4" height="8" fill="#b01414"/><rect x="347" y="466" width="2" height="6" fill="#ffe6e8"/>
<rect x="351" y="463" width="4" height="10" fill="#b01414"/><rect x="352" y="464" width="2" height="8" fill="#ffe6e8"/>
<rect x="356" y="466" width="4" height="7" fill="#0a7a0a"/>
<rect x="360" y="467" width="4" height="6" fill="#0a7a0a"/>
<rect x="365" y="458" width="4" height="15" fill="#b01414"/><rect x="366" y="459" width="2" height="13" fill="#ffe6e8"/>
<rect x="370" y="455" width="4" height="18" fill="#b01414"/><rect x="371" y="456" width="2" height="16" fill="#ffe6e8"/>
<rect x="374" y="439" width="4" height="34" fill="#b01414"/><rect x="375" y="440" width="2" height="32" fill="#ffe6e8"/>
<rect x="379" y="453" width="4" height="20" fill="#b01414"/><rect x="380" y="454" width="2" height="18" fill="#ffe6e8"/>
<rect x="384" y="458" width="4" height="15" fill="#b01414"/><rect x="385" y="459" width="2" height="13" fill="#ffe6e8"/>
<rect x="388" y="460" width="4" height="13" fill="#0a7a0a"/>
<rect x="393" y="454" width="4" height="19" fill="#b01414"/><rect x="394" y="455" width="2" height="17" fill="#ffe6e8"/>
<rect x="398" y="463" width="4" height="10" fill="#b01414"/><rect x="399" y="464" width="2" height="8" fill="#ffe6e8"/>
<rect x="402" y="462" width="4" height="11" fill="#0a7a0a"/>
<rect x="407" y="462" width="4" height="11" fill="#b01414"/><rect x="408" y="463" width="2" height="9" fill="#ffe6e8"/>
<rect x="412" y="462" width="4" height="11" fill="#0a7a0a"/>
<rect x="416" y="467" width="4" height="6" fill="#0a7a0a"/>
<rect x="421" y="441" width="4" height="32" fill="#b01414"/><rect x="422" y="442" width="2" height="30" fill="#ffe6e8"/>
<rect x="426" y="440" width="4" height="33" fill="#b01414"/><rect x="427" y="441" width="2" height="31" fill="#ffe6e8"/>
<rect x="430" y="457" width="4" height="16" fill="#b01414"/><rect x="431" y="458" width="2" height="14" fill="#ffe6e8"/>
<rect x="435" y="455" width="4" height="18" fill="#0a7a0a"/>
<rect x="440" y="458" width="4" height="15" fill="#b01414"/><rect x="441" y="459" width="2" height="13" fill="#ffe6e8"/>
<rect x="444" y="453" width="4" height="20" fill="#b01414"/><rect x="445" y="454" width="2" height="18" fill="#ffe6e8"/>
<rect x="449" y="456" width="4" height="17" fill="#0a7a0a"/>
<rect x="454" y="455" width="4" height="18" fill="#b01414"/><rect x="455" y="456" width="2" height="16" fill="#ffe6e8"/>
<rect x="458" y="459" width="4" height="14" fill="#0a7a0a"/>
<rect x="463" y="464" width="4" height="9" fill="#b01414"/><rect x="464" y="465" width="2" height="7" fill="#ffe6e8"/>
<rect x="468" y="459" width="4" height="14" fill="#b01414"/><rect x="469" y="460" width="2" height="12" fill="#ffe6e8"/>
<rect x="472" y="441" width="4" height="32" fill="#b01414"/><rect x="473" y="442" width="2" height="30" fill="#ffe6e8"/>
<rect x="477" y="458" width="4" height="15" fill="#b01414"/><rect x="478" y="459" width="2" height="13" fill="#ffe6e8"/>
<rect x="482" y="456" width="4" height="17" fill="#0a7a0a"/>
<rect x="486" y="455" width="4" height="18" fill="#b01414"/><rect x="487" y="456" width="2" height="16" fill="#ffe6e8"/>
<rect x="491" y="454" width="4" height="19" fill="#b01414"/><rect x="492" y="455" width="2" height="17" fill="#ffe6e8"/>
<rect x="496" y="455" width="4" height="18" fill="#0a7a0a"/>
<rect x="500" y="459" width="4" height="14" fill="#0a7a0a"/>
<rect x="505" y="460" width="4" height="13" fill="#b01414"/><rect x="506" y="461" width="2" height="11" fill="#ffe6e8"/>
<rect x="510" y="462" width="4" height="11" fill="#b01414"/><rect x="511" y="463" width="2" height="9" fill="#ffe6e8"/>
<rect x="514" y="454" width="4" height="19" fill="#b01414"/><rect x="515" y="455" width="2" height="17" fill="#ffe6e8"/>
<rect x="519" y="461" width="4" height="12" fill="#0a7a0a"/>
<rect x="524" y="464" width="4" height="9" fill="#b01414"/><rect x="525" y="465" width="2" height="7" fill="#ffe6e8"/>
<rect x="528" y="463" width="4" height="10" fill="#b01414"/><rect x="529" y="464" width="2" height="8" fill="#ffe6e8"/>
<rect x="533" y="458" width="4" height="15" fill="#0a7a0a"/>
<rect x="538" y="460" width="4" height="13" fill="#b01414"/><rect x="539" y="461" width="2" height="11" fill="#ffe6e8"/>
<rect x="542" y="460" width="4" height="13" fill="#b01414"/><rect x="543" y="461" width="2" height="11" fill="#ffe6e8"/>
<rect x="547" y="461" width="4" height="12" fill="#0a7a0a"/>
<rect x="552" y="462" width="4" height="11" fill="#0a7a0a"/>
<rect x="556" y="458" width="4" height="15" fill="#b01414"/><rect x="557" y="459" width="2" height="13" fill="#ffe6e8"/>
<rect x="561" y="459" width="4" height="14" fill="#0a7a0a"/>
<rect x="566" y="463" width="4" height="10" fill="#b01414"/><rect x="567" y="464" width="2" height="8" fill="#ffe6e8"/>
<rect x="570" y="444" width="4" height="29" fill="#b01414"/><rect x="571" y="445" width="2" height="27" fill="#ffe6e8"/>
<rect x="575" y="451" width="4" height="22" fill="#0a7a0a"/>
<rect x="580" y="454" width="4" height="19" fill="#0a7a0a"/>
<rect x="584" y="453" width="4" height="20" fill="#b01414"/><rect x="585" y="454" width="2" height="18" fill="#ffe6e8"/>
<rect x="589" y="444" width="4" height="29" fill="#0a7a0a"/>
<rect x="594" y="442" width="4" height="31" fill="#b01414"/><rect x="595" y="443" width="2" height="29" fill="#ffe6e8"/>
<rect x="598" y="440" width="4" height="33" fill="#b01414"/><rect x="599" y="441" width="2" height="31" fill="#ffe6e8"/>
<rect x="603" y="442" width="4" height="31" fill="#b01414"/><rect x="604" y="443" width="2" height="29" fill="#ffe6e8"/>
<rect x="608" y="454" width="4" height="19" fill="#0a7a0a"/>
<rect x="612" y="456" width="4" height="17" fill="#0a7a0a"/>
<rect x="617" y="451" width="4" height="22" fill="#b01414"/><rect x="618" y="452" width="2" height="20" fill="#ffe6e8"/>
<rect x="622" y="454" width="4" height="19" fill="#b01414"/><rect x="623" y="455" width="2" height="17" fill="#ffe6e8"/>
<rect x="626" y="458" width="4" height="15" fill="#b01414"/><rect x="627" y="459" width="2" height="13" fill="#ffe6e8"/>
<rect x="631" y="458" width="4" height="15" fill="#b01414"/><rect x="632" y="459" width="2" height="13" fill="#ffe6e8"/>
<rect x="636" y="460" width="4" height="13" fill="#b01414"/><rect x="637" y="461" width="2" height="11" fill="#ffe6e8"/>
<rect x="640" y="460" width="4" height="13" fill="#0a7a0a"/>
<rect x="645" y="458" width="4" height="15" fill="#b01414"/><rect x="646" y="459" width="2" height="13" fill="#ffe6e8"/>
<rect x="650" y="458" width="4" height="15" fill="#b01414"/><rect x="651" y="459" width="2" height="13" fill="#ffe6e8"/>
<rect x="654" y="460" width="4" height="13" fill="#0a7a0a"/>
<rect x="659" y="456" width="4" height="17" fill="#0a7a0a"/>
<rect x="664" y="459" width="4" height="14" fill="#b01414"/><rect x="665" y="460" width="2" height="12" fill="#ffe6e8"/>
<rect x="0" y="473" width="724" height="2" fill="#8a8a8a"/>
</g>
<g font-size="28" fill="#d81818" style="font-family:'Liberation Serif','Noto Serif CJK SC',serif" font-weight="300">
<text transform="translate(570,463) skewX(-8)">赢</text>
<text transform="translate(600,463) skewX(-8)">家</text>
<text transform="translate(630,463) skewX(-8)">财</text>
<text transform="translate(660,463) skewX(-8)">富</text>
<text transform="translate(690,463) skewX(-8)">网</text>
</g>
</svg></body></html>
